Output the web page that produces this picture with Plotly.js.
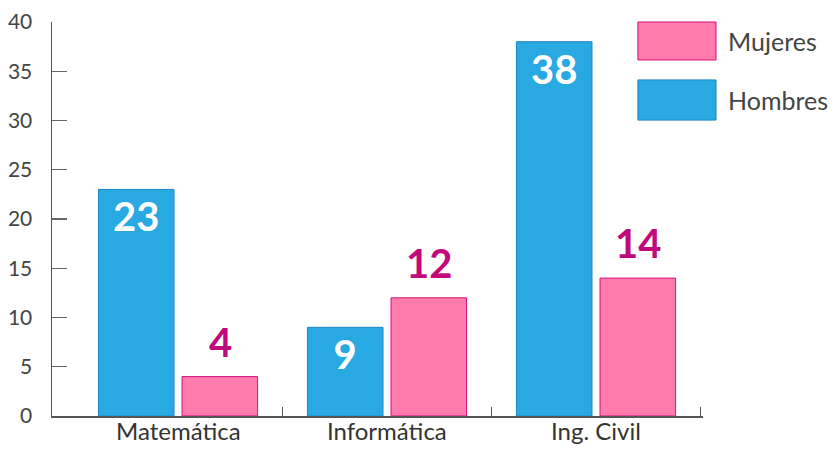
<!DOCTYPE html>
<html>
<head>
<meta charset="utf-8">
<script src="https://cdn.plot.ly/plotly-3.0.1.min.js"></script>
<style>html,body{margin:0;padding:0;background:#fff;}#chart{width:838px;height:449px;}</style>
</head>
<body>
<div id="chart"></div>
<script>
var categories = ["Matemática", "Informática", "Ing. Civil"];
var seriesHombresName = "Hombres";
var seriesMujeresName = "Mujeres";
var hombres = [23, 9, 38];
var mujeres = [4, 12, 14];
var yTicks = [0, 5, 10, 15, 20, 25, 30, 35, 40];

var FONT = "Lato, 'Noto Sans', sans-serif";
var blue = "#29A9E1", blueLine = "#1C86C6";
var pink = "#FF7BAC", pinkLine = "#D2117C";
var magenta = "#C2097C";

var traces = [
  {
    type: "bar", name: seriesHombresName, x: categories, y: hombres,
    marker: {color: blue, line: {color: blueLine, width: 1}},
    text: hombres.map(String), textposition: "inside", insidetextanchor: "end",
    textfont: {family: FONT, size: 40, color: "#ffffff", weight: 700},
    cliponaxis: false, showlegend: false, hoverinfo: "none"
  },
  {
    type: "bar", name: seriesMujeresName, x: categories, y: mujeres,
    marker: {color: pink, line: {color: pinkLine, width: 1}},
    cliponaxis: false, showlegend: false, hoverinfo: "none"
  },
  {
    type: "scatter", x: [0.5, 1.5, 2.5], y: [0, 0, 0], xaxis: "x2", yaxis: "y",
    mode: "none", showlegend: false, hoverinfo: "none"
  }
];

var shapes = [], annotations = [];

// value labels above the Mujeres bars (offset to the right half of each group)
mujeres.forEach(function (v, i) {
  annotations.push({xref: "x", yref: "y", x: categories[i], y: v, xshift: 42, yshift: 9,
    xanchor: "center", yanchor: "bottom", showarrow: false, text: String(v),
    font: {family: FONT, size: 40, color: magenta, weight: 700}});
});

// category labels under the axis
categories.forEach(function (c) {
  annotations.push({xref: "x", yref: "y", x: c, y: 0, yshift: 2,
    xanchor: "center", yanchor: "top", showarrow: false, text: c,
    font: {family: FONT, size: 24, color: "#333"}});
});

var legendItems = [
  {name: seriesMujeresName, color: pink, line: pinkLine, y0: 0.9036, y1: 1.0},
  {name: seriesHombresName, color: blue, line: blueLine, y0: 0.751, y1: 0.853}
];
legendItems.forEach(function (it) {
  shapes.push({type: "rect", xref: "paper", yref: "paper", x0: 0.900, x1: 1.020, y0: it.y0, y1: it.y1,
    fillcolor: it.color, line: {color: it.line, width: 1}});
  annotations.push({xref: "paper", yref: "paper", x: 1.035, y: (it.y0 + it.y1) / 2, xanchor: "left", yanchor: "middle",
    text: it.name, showarrow: false, font: {family: FONT, size: 25, color: "#444"}});
});

var layout = {
  width: 838, height: 449,
  margin: {l: 52, r: 135, t: 22, b: 33, pad: 0},
  paper_bgcolor: "#fff", plot_bgcolor: "#fff",
  font: {family: FONT, color: "#444"},
  barmode: "group", bargap: 0.2, bargroupgap: 0.096,
  xaxis: {
    type: "category", range: [-0.603, 2.512], showgrid: false, zeroline: false,
    showline: true, linecolor: "#555", linewidth: 1.5, ticks: "", showticklabels: false
  },
  xaxis2: {
    type: "linear", overlaying: "x", range: [-0.603, 2.512], showgrid: false, zeroline: false,
    showline: false, ticks: "inside", ticklen: 9, tickwidth: 1.2, tickcolor: "#555",
    tickvals: [0.5, 1.5, 2.5], showticklabels: false, side: "bottom", anchor: "y"
  },
  yaxis: {
    range: [0, 40], tickvals: yTicks, showgrid: false, zeroline: false,
    showline: true, linecolor: "#555", linewidth: 1.5,
    ticks: "inside", ticklen: 15, tickwidth: 1.2, tickcolor: "#666",
    tickfont: {family: FONT, size: 21, color: "#444"}, ticklabelstandoff: 14
  },
  shapes: shapes, annotations: annotations
};

Plotly.newPlot("chart", traces, layout, {staticPlot: true, displayModeBar: false});
</script>
</body>
</html>
